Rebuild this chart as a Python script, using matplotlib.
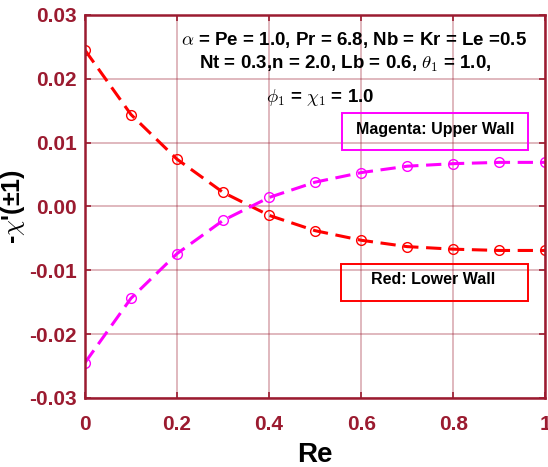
import numpy as np
import matplotlib.pyplot as plt
from matplotlib.patches import Rectangle

# data
Re = [0, 0.1, 0.2, 0.3, 0.4, 0.5, 0.6, 0.7, 0.8, 0.9, 1.0]
lower = [0.0245, 0.0144, 0.0074, 0.0022, -0.0014, -0.0038, -0.0053, -0.0063, -0.0067, -0.0069, -0.0069]
upper = [-0.0245, -0.0144, -0.0074, -0.0022, 0.0014, 0.0038, 0.0053, 0.0063, 0.0067, 0.0069, 0.0069]
xticks = [0, 0.2, 0.4, 0.6, 0.8, 1]
xticklabels = ['0', '0.2', '0.4', '0.6', '0.8', '1']
yticks = [-0.03, -0.02, -0.01, 0.0, 0.01, 0.02, 0.03]
yticklabels = ['-0.03', '-0.02', '-0.01', '0.00', '0.01', '0.02', '0.03']

axcol = '#9b1b30'
plt.rcParams['font.family'] = ['Liberation Sans', 'DejaVu Sans']
plt.rcParams['mathtext.fontset'] = 'cm'

fig = plt.figure(figsize=(5.48, 4.67), dpi=100)
ax = fig.add_axes([0.155, 0.148, 0.84, 0.82])

ax.plot(Re, lower, color='red', ls=(0, (5, 2.5)), lw=2.2, marker='o', ms=7,
        mfc='none', mec='red', mew=1)
ax.plot(Re, upper, color='magenta', ls=(0, (5, 2.5)), lw=2.2, marker='o', ms=7,
        mfc='none', mec='magenta', mew=1)

ax.set_xlim(0, 1)
ax.set_ylim(-0.03, 0.03)
ax.set_xticks(xticks)
ax.set_xticklabels(xticklabels)
ax.set_yticks(yticks)
ax.set_yticklabels(yticklabels)
ax.grid(True, color=axcol, alpha=0.4, lw=1.1)
for s in ax.spines.values():
    s.set_color(axcol)
    s.set_linewidth(1.8)
ax.tick_params(colors=axcol, labelsize=15, direction='in', length=4, width=1.2,
               top=True, right=True, pad=6)
ax.tick_params(axis='x', pad=12)
for lab in ax.get_xticklabels() + ax.get_yticklabels():
    lab.set_fontweight('bold')

ax.set_xlabel('Re', fontsize=20, fontweight='bold', labelpad=6)
ax.set_ylabel("-$\\chi$'(±1)", fontsize=18, fontweight='bold')
ax.yaxis.set_label_coords(-0.125, 0.5)

ax.text(0.585, 0.934, r'$\alpha$ = Pe = 1.0, Pr = 6.8, Nb = Kr = Le =0.5',
        transform=ax.transAxes, ha='center', va='center', fontsize=13.5, fontweight='bold')
ax.text(0.565, 0.872, r'Nt = 0.3,n = 2.0, Lb = 0.6, $\theta_{1}$ = 1.0,',
        transform=ax.transAxes, ha='center', va='center', fontsize=13.5, fontweight='bold')
ax.text(0.51, 0.784, r'$\phi_{1}$ = $\chi_{1}$ = 1.0',
        transform=ax.transAxes, ha='center', va='center', fontsize=13.5, fontweight='bold')

ax.add_patch(Rectangle((0.559, 0.648), 0.404, 0.096, transform=ax.transAxes,
                       fill=False, ec='magenta', lw=1.4, zorder=5))
ax.text(0.76, 0.70, 'Magenta: Upper Wall', transform=ax.transAxes, ha='center',
        va='center', fontsize=11.5, fontweight='bold', zorder=6)
ax.add_patch(Rectangle((0.557, 0.253), 0.406, 0.097, transform=ax.transAxes,
                       fill=False, ec='red', lw=1.4, zorder=5))
ax.text(0.757, 0.31, 'Red: Lower Wall', transform=ax.transAxes, ha='center',
        va='center', fontsize=11.5, fontweight='bold', zorder=6)

fig.savefig('out.png', dpi=100)
